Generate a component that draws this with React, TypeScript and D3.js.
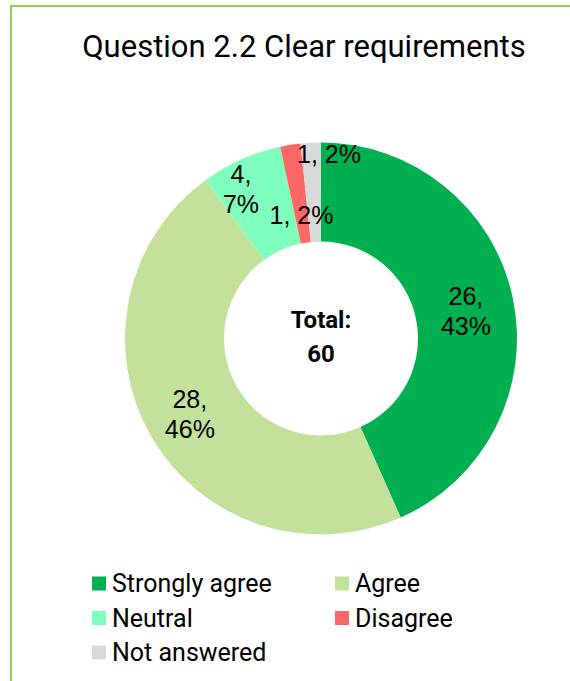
import React from "react";
import * as d3 from "d3";

const categories = ["Strongly agree", "Agree", "Neutral", "Disagree", "Not answered"];
const counts = [26, 28, 4, 1, 1];
const percentLabels = ["43%", "46%", "7%", "2%", "2%"];
const colors = ["#00B050", "#C3E19B", "#7FFFBE", "#FF6666", "#D9D9D9"];
const title = "Question 2.2 Clear requirements";

// label placement tweaks (radius fraction between inner/outer, angle nudge in degrees)
const labelRadius = [0.51, 0.55, 0.73, 0.28, 0.876];
const labelAngleNudge = [1.3, 0, -4.2, 0, 5.5];

const W = 570;
const H = 681;
const cx = 321;
const cy = 338.5;
const outerR = 196;
const innerR = 97;

export default function App() {
  const total = d3.sum(counts);
  const pie = d3.pie<number>().sort(null).value((d) => d);
  const arcs = pie(counts);
  const arcGen = d3.arc<d3.PieArcDatum<number>>().innerRadius(innerR).outerRadius(outerR);

  const legendX = [92, 335];
  const legendY0 = 583.5;
  const legendDy = 34.5;

  return (
    <svg
      width={W}
      height={H}
      style={{ position: "fixed", left: 0, top: 0, background: "#fff" }}
    >
      <rect x={0} y={0} width={W} height={H} fill="#fff" />
      <rect x={11} y={6} width={W + 20} height={H + 20} fill="none" stroke="#92D050" strokeWidth={2} />
      <text
        x={304}
        y={57}
        textAnchor="middle"
        fontFamily="Roboto"
        fontSize={31}
        fill="#000"
      >
        {title}
      </text>
      <g transform={`translate(${cx},${cy})`}>
        {arcs.map((a, i) => (
          <path key={i} d={arcGen(a) || ""} fill={colors[i]} />
        ))}
        {arcs.map((a, i) => {
          const mid = (a.startAngle + a.endAngle) / 2 + (labelAngleNudge[i] * Math.PI) / 180;
          const r = innerR + (outerR - innerR) * labelRadius[i];
          const x = r * Math.sin(mid);
          const y = -r * Math.cos(mid);
          const twoLine = counts[i] >= 4;
          return twoLine ? (
            <text
              key={"l" + i}
              textAnchor="middle"
              fontFamily="Liberation Sans, Arial"
              fontSize={25}
              fill="#000"
            >
              <tspan x={x} y={y - 6.5}>{`${counts[i]},`}</tspan>
              <tspan x={x} y={y + 23.5}>{percentLabels[i]}</tspan>
            </text>
          ) : (
            <text
              key={"l" + i}
              x={x}
              y={y + 8.5}
              textAnchor="middle"
              fontFamily="Liberation Sans, Arial"
              fontSize={25}
              fill="#000"
            >
              {`${counts[i]}, ${percentLabels[i]}`}
            </text>
          );
        })}
        <text textAnchor="middle" fontFamily="Roboto" fontWeight="bold" fontSize={24} fill="#000">
          <tspan x={0} y={-11}>Total:</tspan>
          <tspan x={0} y={23}>{total}</tspan>
        </text>
      </g>
      {categories.map((c, i) => {
        const col = i % 2;
        const row = Math.floor(i / 2);
        const x = legendX[col];
        const y = legendY0 + row * legendDy;
        return (
          <g key={"lg" + i}>
            <rect x={x} y={y - 7} width={14} height={14} fill={colors[i]} />
            <text x={x + 20} y={y + 8.5} fontFamily="Roboto" fontSize={25} fill="#000">
              {c}
            </text>
          </g>
        );
      })}
    </svg>
  );
}
